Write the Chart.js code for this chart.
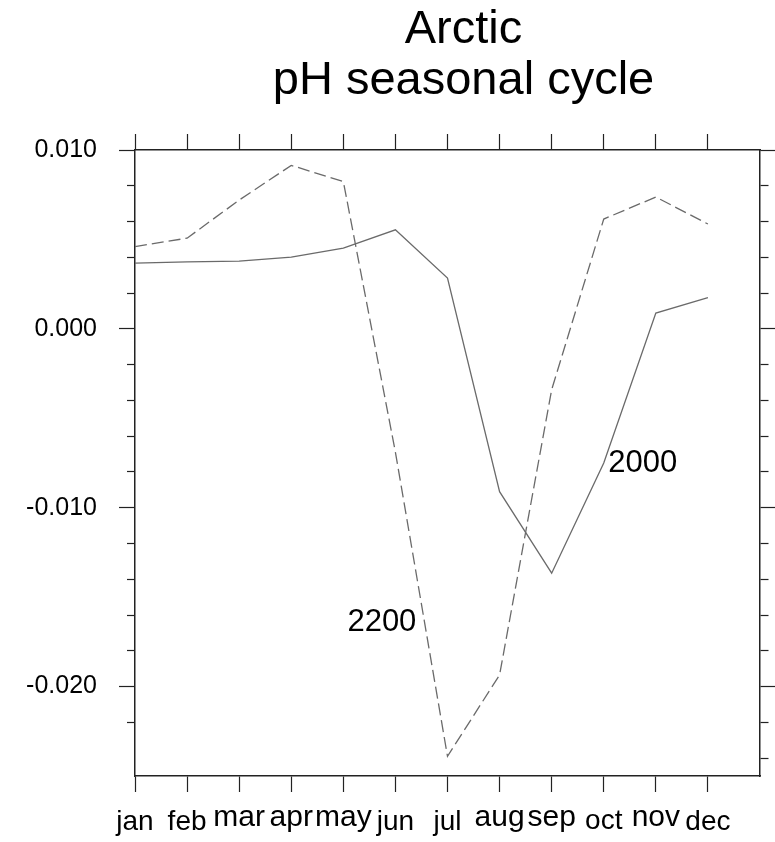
<!DOCTYPE html>
<html>
<head>
<meta charset="utf-8">
<script src="https://cdn.jsdelivr.net/npm/chart.js@4.4.1/dist/chart.umd.min.js"></script>
<style>
    html, body { margin: 0; padding: 0; background: #fff; }
    #wrap { width: 775px; height: 842px; position: relative; }
</style>
</head>
<body>
<div id="wrap"><canvas id="phChart"></canvas></div>
<script>
const months = ["jan", "feb", "mar", "apr", "may", "jun", "jul", "aug", "sep", "oct", "nov", "dec"];
const ph2000 = [0.00368, 0.00375, 0.00379, 0.00401, 0.00451, 0.00554, 0.00284, -0.0091, -0.01366, -0.0075, 0.00088, 0.00175];
const ph2200 = [0.0046, 0.00507, 0.0072, 0.00914, 0.00824, -0.0069, -0.0239, -0.01935, -0.0034, 0.00614, 0.00737, 0.00586];
const titleLines = ["Arctic", "pH seasonal cycle"];
// curve labels, in data units (month number, pH anomaly)
const curveLabels = [
    { text: "2000", x: 10.75, y: -0.0075 },
    { text: "2200", x: 5.74, y: -0.0164 },
];

const FONT = "'Liberation Sans', Arial, Helvetica, sans-serif";
const AXIS_COLOR = "#222";
const LINE_COLOR = "#6a6a6a";

function isMajor(v) {
    return Math.abs(v * 100 - Math.round(v * 100)) < 1e-6;
}

// minor ticks only keep the inner 8px of the 16px tick mark
function minorDash(ctx) {
    const t = ctx.tick;
    return t && !isMajor(t.value) ? [8, 100] : [];
}

const textPlugin = {
    id: "textPlugin",
    afterDraw(chart) {
        const { ctx, chartArea, scales } = chart;
        ctx.save();
        ctx.fillStyle = "#000";

        // title
        ctx.font = "47px " + FONT;
        ctx.textAlign = "center";
        ctx.textBaseline = "alphabetic";
        const cx = (chartArea.left + chartArea.right) / 2 + 16;
        ctx.fillText(titleLines[0], cx, 43);
        ctx.fillText(titleLines[1], cx, 94);

        // month labels hang from their own top edge (NCL style);
        // the ones with no tall letters come out a bit bigger in the original
        months.forEach((m, i) => {
            const size = /[bdfhijklt]/.test(m) ? 28 : 30;
            ctx.font = size + "px " + FONT;
            const asc = ctx.measureText(m).actualBoundingBoxAscent;
            ctx.fillText(m, scales.x.getPixelForValue(i + 1), chartArea.bottom + 34 + asc);
        });

        // curve labels
        ctx.font = "31px " + FONT;
        ctx.textBaseline = "middle";
        curveLabels.forEach((l) => {
            ctx.fillText(l.text, scales.x.getPixelForValue(l.x), scales.y.getPixelForValue(l.y));
        });
        ctx.restore();
    },
};

function monthTicks(scale) {
    scale.ticks = scale.ticks.filter((t) => t.value <= 12);
}
function phTicks(scale) {
    scale.ticks = scale.ticks.filter((t) => t.value > -0.0249);
}

const commonGrid = {
    drawOnChartArea: false,
    tickLength: 16,
    tickColor: AXIS_COLOR,
    tickWidth: 1.2,
};
const commonBorder = { display: true, color: AXIS_COLOR, width: 1.5 };

const ctx = document.getElementById("phChart").getContext("2d");
new Chart(ctx, {
    type: "line",
    data: {
        datasets: [
            {
                label: "2000",
                data: ph2000.map((v, i) => ({ x: i + 1, y: v })),
                borderColor: LINE_COLOR,
                borderWidth: 1.3,
                pointRadius: 0,
                tension: 0,
                fill: false,
            },
            {
                label: "2200",
                data: ph2200.map((v, i) => ({ x: i + 1, y: v })),
                borderColor: LINE_COLOR,
                borderWidth: 1.3,
                borderDash: [12, 5],
                pointRadius: 0,
                tension: 0,
                fill: false,
            },
        ],
    },
    options: {
        responsive: true,
        maintainAspectRatio: false,
        animation: false,
        layout: { padding: 0 },
        plugins: {
            legend: { display: false },
            title: { display: false },
            tooltip: { enabled: false },
        },
        scales: {
            x: {
                type: "linear",
                position: "bottom",
                min: 1,
                max: 13,
                afterBuildTicks: monthTicks,
                afterFit: (s) => { s.height = 66; },
                ticks: { stepSize: 1, display: false, autoSkip: false },
                grid: commonGrid,
                border: commonBorder,
            },
            x2: {
                type: "linear",
                position: "top",
                min: 1,
                max: 13,
                afterBuildTicks: monthTicks,
                afterFit: (s) => { s.height = 150; },
                ticks: { stepSize: 1, display: false, autoSkip: false },
                grid: commonGrid,
                border: commonBorder,
            },
            y: {
                type: "linear",
                position: "left",
                min: -0.025,
                max: 0.010,
                afterBuildTicks: phTicks,
                afterFit: (s) => { s.width = 135; },
                ticks: {
                    stepSize: 0.002,
                    autoSkip: false,
                    padding: 22,
                    color: "#000",
                    font: { family: FONT, size: 25 },
                    callback: (v) => (isMajor(v) ? (Math.round(v * 1000) / 1000).toFixed(3) : ""),
                },
                grid: {
                    ...commonGrid,
                    tickBorderDash: minorDash,
                    tickBorderDashOffset: 100,
                },
                border: commonBorder,
            },
            y2: {
                type: "linear",
                position: "right",
                min: -0.025,
                max: 0.010,
                afterBuildTicks: phTicks,
                afterFit: (s) => { s.width = 15; },
                ticks: { stepSize: 0.002, display: false, autoSkip: false },
                grid: {
                    ...commonGrid,
                    tickBorderDash: minorDash,
                    tickBorderDashOffset: 0,
                },
                border: commonBorder,
            },
        },
    },
    plugins: [textPlugin],
});
</script>
</body>
</html>
